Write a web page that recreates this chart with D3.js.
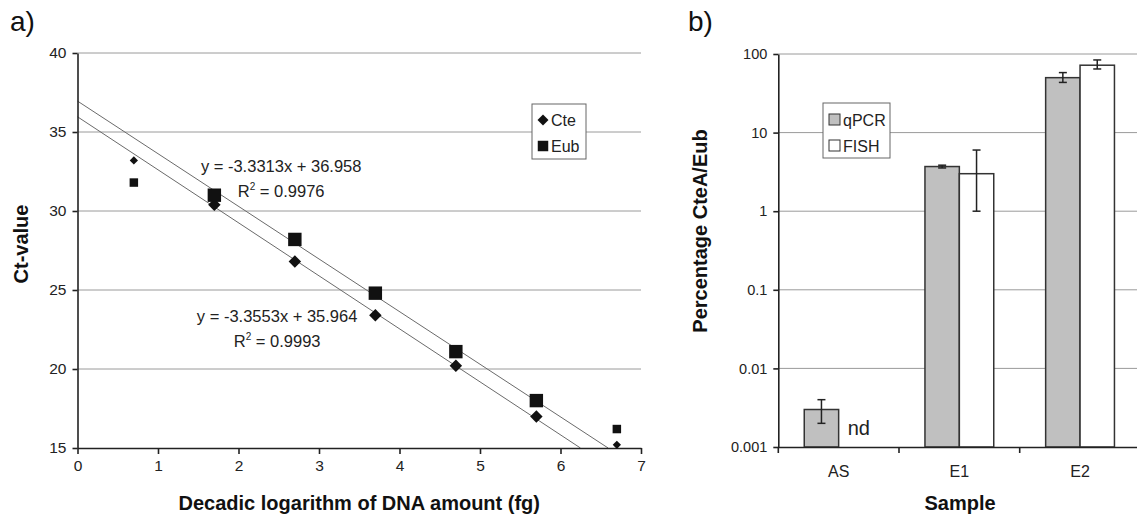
<!DOCTYPE html>
<html>
<head>
<meta charset="utf-8">
<script src="https://cdn.jsdelivr.net/npm/d3@7"></script>
<style>
  body { margin: 0; background: #fff; }
  svg { font-family: "Liberation Sans", Arial, sans-serif; }
  .title { font-size: 20px; font-weight: bold; fill: #111; }
  .panel { font-size: 28px; fill: #111; }
</style>
</head>
<body>
<svg id="chart" width="1137" height="519"></svg>
<script>
// panel a: calibration curves
const doseLog = [0.7, 1.7, 2.7, 3.7, 4.7, 5.7, 6.7]
const cteCt = [33.2, 30.4, 26.8, 23.4, 20.2, 17.0, 15.2]
const eubCt = [31.8, 31.0, 28.2, 24.8, 21.1, 18.0, 16.2]
const inFit = [false, true, true, true, true, true, false]
const seriesNames = ['Cte', 'Eub']
const fitSlope = [-3.3553, -3.3313]
const fitIntercept = [35.964, 36.958]
const fitR2 = ['0.9993', '0.9976']
const ctTicks = [15, 20, 25, 30, 35, 40]
const doseTicks = [0, 1, 2, 3, 4, 5, 6, 7]

// panel b: percentage CteA / Eub
const samples = ['AS', 'E1', 'E2']
const methods = ['qPCR', 'FISH']
const qpcrPct = [0.003, 3.7, 50]
const qpcrLo = [0.002, 3.55, 43.5]
const qpcrHi = [0.004, 3.85, 58]
const fishPct = [null, 3.0, 72]
const fishLo = [null, 1.0, 64.5]
const fishHi = [null, 6.0, 84]
const pctTicks = [0.001, 0.01, 0.1, 1, 10, 100]

const svg = d3.select('#chart')
const ink = '#222'
const grid = '#9a9a9a'

function styleAxis(g, size) {
    g.selectAll('.domain, .tick line').attr('stroke', ink).attr('stroke-width', 1.6)
    g.selectAll('.tick text')
        .style('font-size', size + 'px')
        .style('font-family', '"Liberation Sans", Arial, sans-serif')
        .attr('fill', ink)
}

// ---------- panel a ----------
const ax = d3.scaleLinear().domain([0, 7]).range([77.5, 641])
const ay = d3.scaleLinear().domain([15, 40]).range([448, 53])

const ga = svg.append('g')

ga.append('g').selectAll('line')
    .data(ctTicks.filter(d => d > 15))
    .join('line')
        .attr('x1', ax(0)).attr('x2', ax(7))
        .attr('y1', d => ay(d)).attr('y2', d => ay(d))
        .attr('stroke', grid).attr('stroke-width', 1)

// trend lines, from x = 0 down to the bottom of the axis
const trend = seriesNames.map((s, i) => {
    const xEnd = (15 - fitIntercept[i]) / fitSlope[i]
    return [[0, fitIntercept[i]], [xEnd, 15]]
})
ga.append('g').selectAll('line')
    .data(trend)
    .join('line')
        .attr('x1', d => ax(d[0][0])).attr('y1', d => ay(d[0][1]))
        .attr('x2', d => ax(d[1][0])).attr('y2', d => ay(d[1][1]))
        .attr('stroke', '#6a6a6a').attr('stroke-width', 1)

const yAxisA = d3.axisLeft(ay).tickValues(ctTicks).tickSize(5).tickSizeOuter(0).tickPadding(6)
ga.append('g')
    .attr('transform', `translate(${ax(0)},0)`)
    .call(yAxisA)
    .call(g => styleAxis(g, 15.5))

const xAxisA = d3.axisBottom(ax).tickValues(doseTicks).tickFormat(d3.format('d'))
    .tickSize(6).tickSizeOuter(0).tickPadding(6)
ga.append('g')
    .attr('transform', `translate(0,${ay(15)})`)
    .call(xAxisA)
    .call(g => styleAxis(g, 15.5))

const diamond = d3.symbol().type(d3.symbolSquare)
const points = doseLog.map((x, i) => ({x, cte: cteCt[i], eub: eubCt[i], fit: inFit[i]}))

ga.append('g').selectAll('path')
    .data(points)
    .join('path')
        .attr('d', d => diamond.size(d.fit ? 78 : 34)())
        .attr('transform', d => `translate(${ax(d.x)},${ay(d.cte)}) rotate(45)`)
        .attr('fill', '#111')

ga.append('g').selectAll('path')
    .data(points)
    .join('path')
        .attr('d', d => d3.symbol().type(d3.symbolSquare).size(d.fit ? 180 : 72)())
        .attr('transform', d => `translate(${ax(d.x)},${ay(d.eub)})`)
        .attr('fill', '#111')

// equation labels
const eqPos = [[2.48, 22.97], [2.53, 32.47]]
seriesNames.forEach((s, i) => {
    ga.append('text')
        .attr('x', ax(eqPos[i][0])).attr('y', ay(eqPos[i][1]))
        .attr('text-anchor', 'middle').attr('font-size', 16.5).attr('fill', ink)
        .text(`y = ${fitSlope[i]}x + ${fitIntercept[i]}`)
    const r = ga.append('text')
        .attr('x', ax(eqPos[i][0])).attr('y', ay(eqPos[i][1]) + 25)
        .attr('text-anchor', 'middle').attr('font-size', 16.5).attr('fill', ink)
    r.append('tspan').text('R')
    r.append('tspan').text('2').attr('font-size', 10).attr('dy', -7)
    r.append('tspan').text(` = ${fitR2[i]}`).attr('dy', 7)
})

// legend a
const legA = ga.append('g').attr('transform', 'translate(532,104)')
legA.append('rect').attr('width', 54).attr('height', 55)
    .attr('fill', '#fff').attr('stroke', '#666').attr('stroke-width', 1)
legA.append('path').attr('d', diamond.size(60)())
    .attr('transform', 'translate(11,16) rotate(45)').attr('fill', '#111')
legA.append('path').attr('d', d3.symbol().type(d3.symbolSquare).size(110)())
    .attr('transform', 'translate(11,42)').attr('fill', '#111')
seriesNames.forEach((s, i) => {
    legA.append('text').attr('x', 19).attr('y', 22 + i * 26)
        .attr('font-size', 16).attr('fill', ink).text(s)
})

svg.append('text').attr('class', 'title')
    .attr('x', (ax(0) + ax(7)) / 2).attr('y', 510)
    .attr('text-anchor', 'middle')
    .text('Decadic logarithm of DNA amount (fg)')
svg.append('text').attr('class', 'title')
    .attr('transform', 'translate(28,244) rotate(-90)')
    .attr('text-anchor', 'middle')
    .text('Ct-value')
svg.append('text').attr('class', 'panel').attr('x', 10).attr('y', 31).text('a)')

// ---------- panel b ----------
const bx = d3.scaleBand().domain(samples).range([778.3, 1140.4])
    .paddingInner(0.43).paddingOuter(0.215)
const bx1 = d3.scaleBand().domain(methods).range([0, bx.bandwidth()])
const by = d3.scaleLog().domain([0.001, 100]).range([447, 54])

const gb = svg.append('g')

gb.append('g').selectAll('line')
    .data(pctTicks.filter(d => d > 0.001))
    .join('line')
        .attr('x1', bx.range()[0]).attr('x2', bx.range()[1])
        .attr('y1', d => by(d)).attr('y2', d => by(d))
        .attr('stroke', grid).attr('stroke-width', 1)

const bars = []
samples.forEach((s, i) => {
    bars.push({sample: s, method: 'qPCR', v: qpcrPct[i], lo: qpcrLo[i], hi: qpcrHi[i]})
    bars.push({sample: s, method: 'FISH', v: fishPct[i], lo: fishLo[i], hi: fishHi[i]})
})
const shown = bars.filter(d => d.v != null)

gb.append('g').selectAll('rect')
    .data(shown)
    .join('rect')
        .attr('x', d => bx(d.sample) + bx1(d.method))
        .attr('width', bx1.bandwidth())
        .attr('y', d => by(d.v))
        .attr('height', d => by(0.001) - by(d.v))
        .attr('fill', d => d.method === 'qPCR' ? '#c0c0c0' : '#fff')
        .attr('stroke', '#333').attr('stroke-width', 1.5)

const err = gb.append('g').attr('stroke', ink).attr('stroke-width', 1.5)
shown.forEach(d => {
    const cx = bx(d.sample) + bx1(d.method) + bx1.bandwidth() / 2
    err.append('line').attr('x1', cx).attr('x2', cx).attr('y1', by(d.hi)).attr('y2', by(d.lo))
    err.append('line').attr('x1', cx - 4).attr('x2', cx + 4).attr('y1', by(d.hi)).attr('y2', by(d.hi))
    err.append('line').attr('x1', cx - 4).attr('x2', cx + 4).attr('y1', by(d.lo)).attr('y2', by(d.lo))
})

// "nd" where the FISH value is missing
bars.filter(d => d.v == null).forEach(d => {
    gb.append('text')
        .attr('x', bx(d.sample) + bx1(d.method) + 9)
        .attr('y', by(0.001) - 12)
        .attr('font-size', 20).attr('fill', ink)
        .text('nd')
})

const yAxisB = d3.axisLeft(by).tickValues(pctTicks).tickFormat(d => String(d))
    .tickSize(5).tickSizeOuter(0).tickPadding(6)
gb.append('g')
    .attr('transform', `translate(${bx.range()[0]},0)`)
    .call(yAxisB)
    .call(g => styleAxis(g, 14.5))

const xAxisB = d3.axisBottom(bx).tickSize(0).tickPadding(19)
gb.append('g')
    .attr('transform', `translate(0,${by(0.001)})`)
    .call(xAxisB)
    .call(g => styleAxis(g, 16))
gb.append('g').selectAll('line')
    .data(samples)
    .join('line')
        .attr('x1', d => bx(d) - (bx.step() - bx.bandwidth()) / 2)
        .attr('x2', d => bx(d) - (bx.step() - bx.bandwidth()) / 2)
        .attr('y1', by(0.001)).attr('y2', by(0.001) + 6)
        .attr('stroke', ink).attr('stroke-width', 1.6)

// legend b
const legB = gb.append('g').attr('transform', 'translate(823,103)')
legB.append('rect').attr('width', 67).attr('height', 55)
    .attr('fill', '#fff').attr('stroke', '#666').attr('stroke-width', 1)
methods.forEach((m, i) => {
    legB.append('rect').attr('x', 6).attr('y', 11 + i * 26).attr('width', 11).attr('height', 11)
        .attr('fill', m === 'qPCR' ? '#c0c0c0' : '#fff').attr('stroke', '#333').attr('stroke-width', 1)
    legB.append('text').attr('x', 20).attr('y', 22.5 + i * 26)
        .attr('font-size', 16).attr('fill', ink).text(m)
})

svg.append('text').attr('class', 'title')
    .attr('x', 960).attr('y', 510)
    .attr('text-anchor', 'middle')
    .text('Sample')
svg.append('text').attr('class', 'title')
    .attr('transform', 'translate(707,231) rotate(-90)')
    .attr('text-anchor', 'middle')
    .text('Percentage CteA/Eub')
svg.append('text').attr('class', 'panel').attr('x', 688).attr('y', 31).text('b)')
</script>
</body>
</html>
